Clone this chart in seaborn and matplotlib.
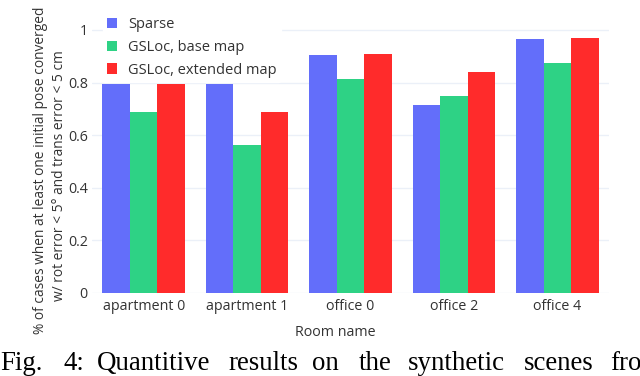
import matplotlib
matplotlib.use("Agg")
import matplotlib.pyplot as plt
import seaborn as sns
import pandas as pd

rooms = ["apartment 0", "apartment 1", "office 0", "office 2", "office 4"]
methods = ["Sparse", "GSLoc, base map", "GSLoc, extended map"]
sparse = [0.794, 0.794, 0.905, 0.716, 0.967]
base_map = [0.688, 0.563, 0.812, 0.749, 0.876]
extended_map = [0.794, 0.688, 0.909, 0.841, 0.971]
yticks = [0, 0.2, 0.4, 0.6, 0.8, 1]
ytick_labels = ["0", "0.2", "0.4", "0.6", "0.8", "1"]
colors = ["#636EFA", "#2ED285", "#FF2B2B"]

rows = []
for m, vals in zip(methods, [sparse, base_map, extended_map]):
    for r, v in zip(rooms, vals):
        rows.append({"Room name": r, "Method": m, "value": v})
df = pd.DataFrame(rows)

sns.set_theme(style="white")
plt.rcParams["font.family"] = ["Open Sans", "DejaVu Sans"]
text_color = "#333333"

W, H = 640, 376
fig = plt.figure(figsize=(W / 100, H / 100), dpi=100)
ax = fig.add_axes([92 / W, (H - 293) / H, (609 - 92) / W, (293 - 24.3) / H])

sns.barplot(data=df, x="Room name", y="value", hue="Method", hue_order=methods,
            order=rooms, palette=colors, width=0.8, linewidth=0, saturation=1,
            ax=ax, legend=True, zorder=3)

ax.set_ylim(0, 1.0216)
ax.set_xlim(-0.5, len(rooms) - 0.5)
ax.set_yticks(yticks)
ax.set_yticklabels(ytick_labels)
ax.yaxis.grid(True, color="#EBF0F8", linewidth=1, zorder=0)
ax.set_axisbelow(True)
for s in ax.spines.values():
    s.set_visible(False)
ax.tick_params(axis="both", length=0, labelsize=10.3, colors=text_color)
ax.tick_params(axis="y", pad=3)
ax.tick_params(axis="x", pad=4)
ax.set_xlabel("")
ax.set_ylabel("")

# axis titles
fig.text(335 / W, (H - 333) / H, "Room name", ha="center", va="center",
         fontsize=10.3, color=text_color)
fig.text(41 / W, (H - 170) / H, "% of cases when at least one initial pose converged",
         ha="center", va="center", rotation=90, fontsize=9.9, color=text_color)
fig.text(60 / W, (H - 176) / H, "w/ rot error < 5° and trans error < 5 cm",
         ha="center", va="center", rotation=90, fontsize=9.9, color=text_color)

# legend
handles, labels = ax.get_legend_handles_labels()
leg = ax.legend(handles, labels, loc="upper left",
                bbox_to_anchor=(102.5 / W, (H - 12.5) / H), bbox_transform=fig.transFigure,
                frameon=True, fontsize=10.5, handlelength=0.7, handleheight=0.7,
                handletextpad=0.75, labelspacing=0.54, borderpad=0.3, borderaxespad=0)
leg.get_frame().set_facecolor("white")
leg.get_frame().set_edgecolor("white")
leg.get_frame().set_alpha(1)
for t in leg.get_texts():
    t.set_color(text_color)

# caption (part of the paper figure)
caption_words = ["Fig.", "4:", "Quantitive", "results", "on", "the", "synthetic", "scenes", "fro"]
caption_x = [0, 63, 97, 228, 312, 359, 408, 524, 610]
for w, x in zip(caption_words, caption_x):
    fig.text(x / W, (H - 370) / H, w, ha="left", va="baseline",
             fontsize=19.4, family="Liberation Serif", color="black")

fig.savefig("out.png", dpi=100)
